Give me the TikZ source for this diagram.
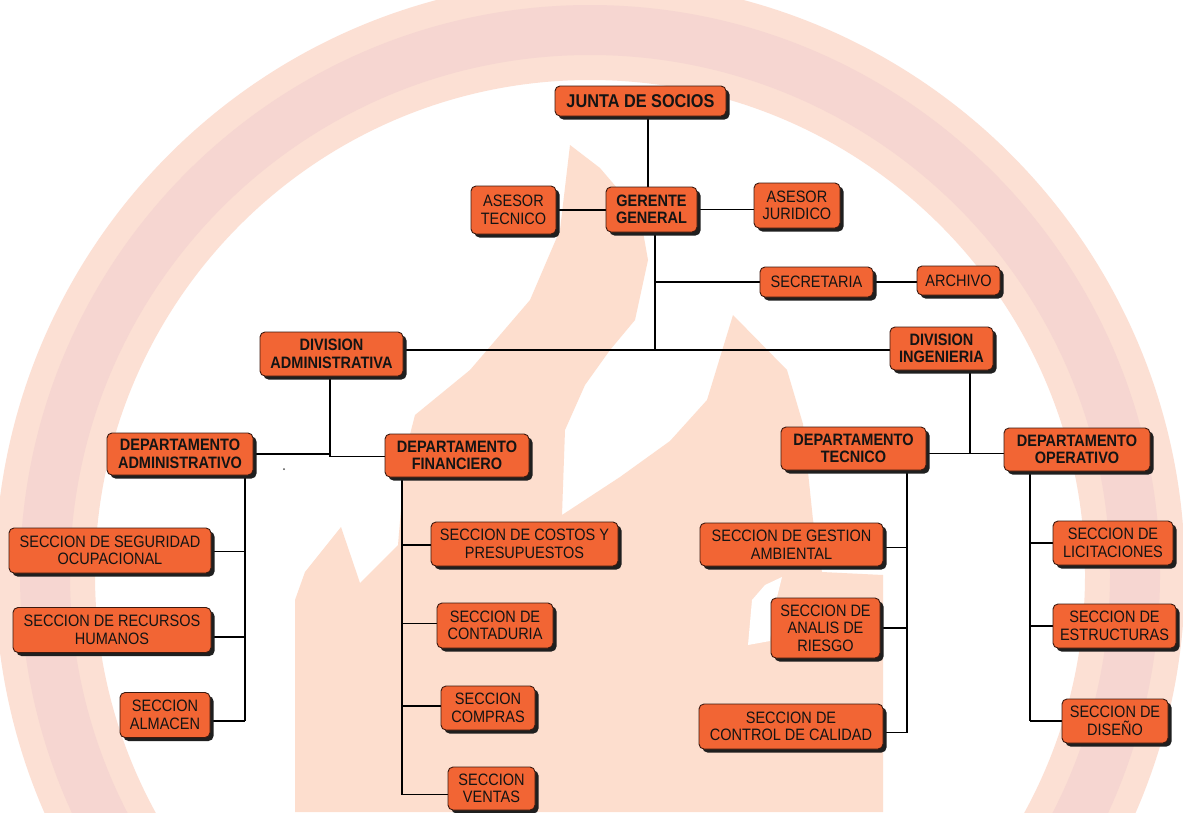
\documentclass[tikz,border=0pt]{standalone}
\usepackage{fontspec}
\setmainfont{Liberation Sans}[FakeStretch=0.88]
\usetikzlibrary{shadows}
\definecolor{boxfill}{RGB}{242,101,52}
\definecolor{boxline}{RGB}{60,25,15}
\definecolor{ringA}{RGB}{252,224,212}
\definecolor{ringB}{RGB}{246,214,209}
\definecolor{flame}{RGB}{253,222,206}
\pgfdeclarelayer{wm}
\pgfdeclarelayer{lines}
\pgfsetlayers{wm,lines,main}
\tikzset{
  orgbox/.style={draw=boxline, line width=0.9pt, fill=boxfill, rounded corners=5pt,
    align=center, inner sep=1pt, text=black!92,
    font=\fontsize{16.5}{17.5}\selectfont,
    drop shadow={shadow xshift=3.5pt, shadow yshift=-3.5pt, fill=black!88, opacity=1}},
  headbox/.style={orgbox, font=\fontsize{16.5}{17.5}\selectfont\bfseries},
  sz/.style n args={2}{minimum width=#1pt, minimum height=#2pt},
  link/.style={draw=black, line width=1.3pt},
}
\begin{document}
\begin{tikzpicture}[x=1pt,y=-1pt]
\useasboundingbox (0,0) rectangle (1183,812);
% watermark
\begin{pgfonlayer}{wm}
  \begin{scope}
    \clip (0,0) rectangle (1183,812);
    \fill[white] (0,0) rectangle (1183,812);
    \draw[ringA, line width=100pt] (590,575) circle[radius=545pt];
    \draw[ringB, line width=50pt] (590,575) circle[radius=545pt];
    \fill[flame] (295,812) -- (295,600) -- (305,572) -- (341,527) -- (360,583) -- (398,545)
      -- (406,450) -- (415,415) -- (470,370) -- (530,300) -- (560,230) -- (570,145)
      -- (600,168) -- (640,215) -- (648,260) -- (635,320) -- (610,350) -- (585,385)
      -- (565,430) -- (562,515) -- (620,477) -- (670,441) -- (707,400) -- (733,315)
      -- (787,370) -- (803,424) -- (813,520) -- (822,572) -- (883,575) -- (883,812) -- cycle;
    \fill[white] (748,645) -- (752,600) -- (765,585) -- (782,577) -- (775,605) -- (770,641) -- cycle;
  \end{scope}
\end{pgfonlayer}

% boxes
\node[headbox, sz={171}{30}, font=\fontsize{18.5}{20}\selectfont\bfseries] (junta) at (640.5,101) {JUNTA DE SOCIOS};
\node[orgbox, sz={85}{48}] (astec) at (513.5,210) {ASESOR\\TECNICO};
\node[headbox, sz={91}{45}] (gerente) at (651.5,209.5) {GERENTE\\GENERAL};
\node[orgbox, sz={86}{45}] (asjur) at (797,205.5) {ASESOR\\JURIDICO};
\node[orgbox, sz={113}{30}] (secre) at (816.5,282) {SECRETARIA};
\node[orgbox, sz={83}{29}] (archivo) at (958.5,280.5) {ARCHIVO};
\node[headbox, sz={143}{44}] (divadm) at (331.5,354) {DIVISION\\ADMINISTRATIVA};
\node[headbox, sz={103}{43}] (diving) at (941.5,348.5) {DIVISION\\INGENIERIA};
\node[headbox, sz={146}{42}] (depadm) at (180,454) {DEPARTAMENTO\\ADMINISTRATIVO};
\node[headbox, sz={144}{43}] (depfin) at (457,455.5) {DEPARTAMENTO\\FINANCIERO};
\node[headbox, sz={145}{43}] (deptec) at (853.5,448.5) {DEPARTAMENTO\\TECNICO};
\node[headbox, sz={146}{43}] (depope) at (1077,449.5) {DEPARTAMENTO\\OPERATIVO};

\node[orgbox, sz={202}{45}] (segocu) at (110,550.5) {SECCION DE SEGURIDAD\\OCUPACIONAL};
\node[orgbox, sz={198}{45}] (rrhh) at (112,630) {SECCION DE RECURSOS\\HUMANOS};
\node[orgbox, sz={90}{45}] (almacen) at (165,715) {SECCION\\ALMACEN};

\node[orgbox, sz={187}{44}] (costos) at (524.5,544) {SECCION DE COSTOS Y\\PRESUPUESTOS};
\node[orgbox, sz={116}{45}] (contad) at (495,625.5) {SECCION DE\\CONTADURIA};
\node[orgbox, sz={94}{44}] (compras) at (488,708) {SECCION\\COMPRAS};
\node[orgbox, sz={87}{43}] (ventas) at (491.5,788.5) {SECCION\\VENTAS};

\node[orgbox, sz={183}{43}] (gestamb) at (791.5,544.5) {SECCION DE GESTION\\AMBIENTAL};
\node[orgbox, sz={109}{60}] (riesgo) at (825.5,628) {SECCION DE\\ANALIS DE\\RIESGO};
\node[orgbox, sz={184}{45}] (calidad) at (791,726.5) {SECCION DE\\CONTROL DE CALIDAD};

\node[orgbox, sz={120}{44}] (licit) at (1113,543) {SECCION DE\\LICITACIONES};
\node[orgbox, sz={123}{44}] (estruc) at (1114.5,626) {SECCION DE\\ESTRUCTURAS};
\node[orgbox, sz={106}{44}] (diseno) at (1115,721) {SECCION DE\\DISEÑO};

\fill[black!70] (284,469) circle[radius=1pt];

% trunk coordinates
\coordinate (t1) at (648,0);
\coordinate (t2) at (655,0);
\coordinate (t3) at (330,0);
\coordinate (t4) at (970,0);
\coordinate (t5) at (245,0);
\coordinate (t6) at (402,0);
\coordinate (t7) at (907,0);
\coordinate (t8) at (1030,0);
\coordinate (h1) at (0,350);
\coordinate (h2) at (0,453.5);

\begin{pgfonlayer}{lines}
  \draw[link] (t1 |- junta.south) -- (t1 |- gerente.north);
  \draw[link] (astec.east) -- (astec.east -| gerente.west);
  \draw[link] (gerente.east) -- (gerente.east -| asjur.west);
  \draw[link] (t2 |- gerente.south) -- (t2 |- h1);
  \draw[link] (t2 |- secre.west) -- (secre.west);
  \draw[link] (secre.east) -- (secre.east -| archivo.west);
  \draw[link] (divadm.east |- h1) -- (diving.west |- h1);
  % division administrativa
  \draw[link] (t3 |- divadm.south) -- ([yshift=-1pt]t3 |- depfin.west);
  \draw[link] (depadm.east) -- (t3 |- depadm.east);
  \draw[link] ([yshift=-1pt]t3 |- depfin.west) -- ([yshift=-1pt]depfin.west);
  % division ingenieria
  \draw[link] (t4 |- diving.south) -- (t4 |- h2);
  \draw[link] (deptec.east |- h2) -- (depope.west |- h2);
  % departamento administrativo
  \draw[link] (t5 |- depadm.south) -- ([yshift=-6pt]t5 |- almacen.east);
  \draw[link] ([yshift=-1pt]segocu.east) -- ([yshift=-1pt]t5 |- segocu.east);
  \draw[link] ([yshift=-7pt]rrhh.east) -- ([yshift=-7pt]t5 |- rrhh.east);
  \draw[link] ([yshift=-6pt]almacen.east) -- ([yshift=-6pt]t5 |- almacen.east);
  % departamento financiero
  \draw[link] (t6 |- depfin.south) -- ([yshift=-6pt]t6 |- ventas.west);
  \draw[link] ([yshift=-1pt]t6 |- costos.west) -- ([yshift=-1pt]costos.west);
  \draw[link] ([yshift=2pt]t6 |- contad.west) -- ([yshift=2pt]contad.west);
  \draw[link] ([yshift=2pt]t6 |- compras.west) -- ([yshift=2pt]compras.west);
  \draw[link] ([yshift=-6pt]t6 |- ventas.west) -- ([yshift=-6pt]ventas.west);
  % departamento tecnico
  \draw[link] (t7 |- deptec.south) -- ([yshift=-6pt]t7 |- calidad.east);
  \draw[link] ([yshift=-3pt]gestamb.east) -- ([yshift=-3pt]t7 |- gestamb.east);
  \draw[link] (riesgo.east) -- (t7 |- riesgo.east);
  \draw[link] ([yshift=-6pt]calidad.east) -- ([yshift=-6pt]t7 |- calidad.east);
  % departamento operativo
  \draw[link] (t8 |- depope.south) -- (t8 |- diseno.west);
  \draw[link] (t8 |- licit.west) -- (licit.west);
  \draw[link] (t8 |- estruc.west) -- (estruc.west);
  \draw[link] (t8 |- diseno.west) -- (diseno.west);
\end{pgfonlayer}
\end{tikzpicture}
\end{document}
